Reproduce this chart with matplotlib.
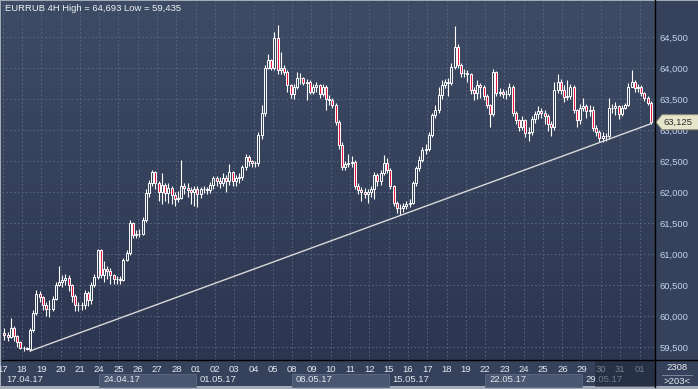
import numpy as np
import matplotlib
matplotlib.use('Agg')
import matplotlib.pyplot as plt
from matplotlib.colors import LinearSegmentedColormap
from matplotlib.transforms import blended_transform_factory
from matplotlib.patches import Rectangle, Polygon
from matplotlib.lines import Line2D

plt.rcParams['font.family'] = ['Liberation Sans', 'DejaVu Sans']

# EURRUB 4H, 17.04.17 - 01.06.17 (6 bars per day)
first_open = 59.72
closes = [
    59.70, 59.66, 59.80, 59.68, 59.58, 59.48,  # 17
    59.48, 59.47, 59.77, 60.05, 60.35, 60.30,  # 18
    60.18, 60.12, 60.12, 60.28, 60.50, 60.55,  # 19
    60.58, 60.62, 60.50, 60.33, 60.18, 60.17,  # 20
    60.17, 60.37, 60.26, 60.50, 60.63, 61.06,  # 21
    60.66, 60.76, 60.72, 60.66, 60.60, 60.60,  # 24
    60.58, 60.90, 61.02, 61.50, 61.30, 61.32,  # 25
    61.33, 61.55, 61.98, 62.15, 62.32, 62.15,  # 26
    62.00, 62.12, 61.98, 62.06, 61.95, 61.88,  # 27
    61.90, 62.10, 62.07, 62.03, 62.00, 62.05,  # 28
    61.97, 62.05, 62.05, 62.03, 62.12, 62.22,  # 01
    62.18, 62.15, 62.23, 62.17, 62.32, 62.17,  # 02
    62.23, 62.24, 62.40, 62.57, 62.50, 62.47,  # 03
    62.46, 62.92, 63.27, 64.00, 64.13, 64.00,  # 04
    64.48, 63.97, 64.00, 63.94, 63.72, 63.58,  # 05
    63.70, 63.84, 63.84, 63.76, 63.78, 63.62,  # 08
    63.70, 63.72, 63.58, 63.70, 63.50, 63.48,  # 09
    63.40, 63.13, 62.76, 62.40, 62.45, 62.47,  # 10
    62.48, 62.10, 62.03, 62.00, 61.97, 62.00,  # 11
    62.05, 62.27, 62.18, 62.30, 62.47, 62.35,  # 12
    62.10, 61.82, 61.74, 61.74, 61.78, 61.80,  # 15
    61.83, 62.14, 62.38, 62.52, 62.68, 62.70,  # 16
    62.92, 63.24, 63.32, 63.56, 63.73, 63.77,  # 17
    63.76, 64.02, 64.34, 64.05, 63.92, 63.92,  # 18
    63.90, 63.64, 63.60, 63.72, 63.70, 63.55,  # 19
    63.40, 63.25, 63.93, 63.60, 63.62, 63.58,  # 22
    63.58, 63.70, 63.27, 63.16, 63.05, 63.16,  # 23
    62.95, 62.97, 63.17, 63.25, 63.30, 63.28,  # 24
    63.22, 63.10, 63.05, 63.65, 63.77, 63.64,  # 25
    63.53, 63.55, 63.70, 63.32, 63.16, 63.35,  # 26
    63.38, 63.30, 63.33, 63.03, 62.97, 62.87,  # 29
    62.90, 62.90, 63.35, 63.35, 63.38, 63.25,  # 30
    63.35, 63.40, 63.70, 63.77, 63.68, 63.70,  # 31
    63.60, 63.52, 63.44, 63.125,               # 01
]
highs = [
    59.80, 59.74, 59.97, 59.84, 59.70, 59.60,
    59.52, 59.50, 59.80, 60.10, 60.42, 60.40,
    60.32, 60.22, 60.26, 60.32, 60.54, 60.80,
    60.66, 60.68, 60.66, 60.52, 60.35, 60.22,
    60.22, 60.42, 60.40, 60.55, 60.68, 61.08,
    61.08, 60.88, 60.80, 60.78, 60.68, 60.64,
    60.64, 60.94, 61.06, 61.55, 61.52, 61.38,
    61.40, 61.60, 62.05, 62.20, 62.36, 62.34,
    62.18, 62.30, 62.15, 62.14, 62.10, 62.00,
    62.02, 62.52, 62.14, 62.15, 62.08, 62.10,
    62.10, 62.08, 62.10, 62.08, 62.16, 62.26,
    62.25, 62.24, 62.30, 62.28, 62.45, 62.34,
    62.28, 62.30, 62.44, 62.62, 62.60, 62.52,
    62.50, 62.96, 63.40, 64.05, 64.22, 64.15,
    64.58, 64.693, 64.26, 64.04, 63.96, 63.74,
    63.74, 63.94, 63.92, 63.86, 63.82, 63.80,
    63.74, 63.78, 63.74, 63.74, 63.72, 63.56,
    63.52, 63.44, 63.16, 62.80, 62.50, 62.62,
    62.58, 62.52, 62.14, 62.08, 62.06, 62.04,
    62.10, 62.32, 62.30, 62.36, 62.60, 62.55,
    62.38, 62.12, 61.85, 61.80, 61.82, 61.86,
    61.88, 62.18, 62.42, 62.58, 62.72, 62.78,
    62.96, 63.28, 63.40, 63.70, 63.80, 63.82,
    63.84, 64.08, 64.68, 64.38, 64.08, 63.98,
    63.96, 63.92, 63.70, 63.80, 63.76, 63.72,
    63.58, 63.42, 63.98, 63.95, 63.68, 63.66,
    63.64, 63.76, 63.72, 63.30, 63.18, 63.22,
    63.18, 63.05, 63.22, 63.30, 63.38, 63.35,
    63.32, 63.25, 63.14, 63.78, 63.90, 63.82,
    63.72, 63.80, 63.74, 63.72, 63.34, 63.42,
    63.52, 63.42, 63.40, 63.38, 63.08, 63.00,
    62.96, 62.95, 63.52, 63.42, 63.45, 63.40,
    63.40, 63.44, 63.76, 63.97, 63.80, 63.74,
    63.72, 63.62, 63.55, 63.46,
]
lows = [
    59.62, 59.60, 59.64, 59.60, 59.50, 59.46,
    59.44, 59.45, 59.435, 59.74, 60.02, 60.22,
    60.10, 60.00, 59.98, 60.08, 60.25, 60.48,
    60.46, 60.50, 60.40, 60.22, 60.08, 60.08,
    60.10, 60.12, 60.16, 60.20, 60.46, 60.60,
    60.62, 60.55, 60.60, 60.52, 60.52, 60.52,
    60.52, 60.56, 60.88, 60.98, 61.26, 61.26,
    61.28, 61.30, 61.52, 61.92, 62.10, 62.05,
    61.85, 61.80, 61.85, 61.82, 61.80, 61.78,
    61.84, 61.88, 61.96, 61.92, 61.80, 61.78,
    61.75, 61.90, 61.98, 61.96, 61.98, 62.05,
    62.10, 62.06, 62.10, 62.00, 62.12, 62.10,
    62.10, 62.15, 62.20, 62.36, 62.42, 62.40,
    62.40, 62.42, 62.85, 63.22, 63.98, 63.96,
    63.96, 63.90, 63.90, 63.88, 63.62, 63.52,
    63.50, 63.66, 63.74, 63.72, 63.48, 63.58,
    63.58, 63.62, 63.52, 63.54, 63.32, 63.40,
    63.35, 63.08, 62.70, 62.36, 62.36, 62.40,
    62.40, 62.04, 61.96, 61.85, 61.90, 61.82,
    61.92, 61.88, 62.10, 62.12, 62.28, 62.30,
    62.05, 61.78, 61.66, 61.63, 61.68, 61.72,
    61.76, 61.80, 62.10, 62.34, 62.48, 62.62,
    62.66, 62.88, 63.20, 63.28, 63.50, 63.68,
    63.55, 63.72, 63.98, 64.00, 63.86, 63.85,
    63.78, 63.58, 63.48, 63.50, 63.52, 63.48,
    63.36, 63.05, 63.22, 63.55, 63.55, 63.52,
    63.50, 63.55, 63.22, 63.10, 62.98, 63.00,
    62.88, 62.82, 62.92, 63.12, 63.18, 63.20,
    63.10, 62.98, 62.90, 63.00, 63.60, 63.58,
    63.45, 63.48, 63.50, 63.28, 63.05, 63.10,
    63.30, 63.20, 63.22, 62.98, 62.90, 62.80,
    62.80, 62.82, 62.86, 63.28, 63.24, 63.18,
    63.22, 63.34, 63.38, 63.70, 63.62, 63.62,
    63.54, 63.46, 63.40, 63.10,
]

days = ['17', '18', '19', '20', '21', '24', '25', '26', '27', '28',
        '01', '02', '03', '04', '05', '08', '09', '10', '11', '12',
        '15', '16', '17', '18', '19', '22', '23', '24', '25', '26',
        '29', '30', '31', '01']
weeks = ['17.04.17', '24.04.17', '01.05.17', '08.05.17',
         '15.05.17', '22.05.17', '29.05.17']
shaded_weeks = [1, 3, 5]
price_ticks = [59.5, 60.0, 60.5, 61.0, 61.5, 62.0, 62.5, 63.0, 63.5, 64.0, 64.5]
trend_x = [8, 201]
trend_y = [59.435, 63.10]
last_price = 63.125

closes = np.array(closes)
highs = np.array(highs)
lows = np.array(lows)
opens = np.r_[first_open, closes[:-1]]
x = np.arange(len(closes))

W, H = 698, 389
fig = plt.figure(figsize=(W / 100, H / 100), dpi=100, facecolor='#a3abb9')

# panel background (strips)
back = fig.add_axes([0, 0, 1, 1])
back.set_xlim(0, W)
back.set_ylim(H, 0)
back.axis('off')
back.add_patch(Rectangle((1, 1), W - 1, 385, facecolor='#36415b', edgecolor='none'))

ax = fig.add_axes([2 / W, 29 / H, 653 / W, 359 / H])
ax.set_facecolor('none')
ax.set_xlim(-0.72, 202.3)
ax.set_ylim(59.29, 65.08)

# gradient plot background
cmap = LinearSegmentedColormap.from_list('bg', ['#2d3650', '#3e4b65'])
ax.imshow(np.linspace(0, 1, 256).reshape(-1, 1), cmap=cmap, aspect='auto',
          extent=[-0.72, 202.3, 59.29, 65.08], origin='lower', zorder=0)

# grid
ax.set_axisbelow(True)
day_pos = [6 * k - 0.5 for k in range(len(days))]
ax.set_xticks(day_pos)
ax.set_xticklabels(days)
ax.set_yticks(price_ticks)
ax.set_yticklabels([f'{v:.3f}'.replace('.', ',') for v in price_ticks])
ax.yaxis.tick_right()
ax.grid(True, color='#5b6782', linestyle=(0, (1.6, 2.4)), linewidth=0.7)
ax.tick_params(axis='x', length=0, pad=3.5, labelsize=6.8, labelcolor='#e4e9f0')
ax.tick_params(axis='y', length=0, pad=3.5, labelsize=6.8, labelcolor='#c3d4ee')
for s in ax.spines.values():
    s.set_visible(False)

# candles
up = closes >= opens
faces = np.where(up, '#35415b', '#e8163c')
ax.vlines(x, lows, highs, color='white', linewidth=0.8, zorder=2)
ax.bar(x, np.abs(closes - opens), bottom=np.minimum(opens, closes), width=0.62,
       color=faces, edgecolor='white', linewidth=0.7, zorder=3)

# trend line
ax.plot(trend_x, trend_y, color='#d9d9d9', linewidth=1.0, zorder=4)

ax.text(0.004, 0.993, 'EURRUB 4H High = 64,693 Low = 59,435', transform=ax.transAxes,
        ha='left', va='top', fontsize=6.8, color='#eef1f5', zorder=6)

# week boxes and labels under the day labels
bt = blended_transform_factory(ax.transData, ax.transAxes)
for w, lab in enumerate(weeks):
    x0 = 30 * w - 0.5
    if w in shaded_weeks:
        ax.add_patch(Rectangle((x0, -0.076), 30, 0.038, transform=bt, clip_on=False,
                               facecolor='#4b5771', edgecolor='#5d6983', linewidth=0.6, zorder=1))
    ax.text(x0 + 1.2, -0.053, lab, transform=bt, ha='left', va='center',
            fontsize=6.8, color='#e0e6ee', clip_on=False, zorder=4)

# darker band at the right end of the time axis
ax.add_patch(Rectangle((183.6, -0.076), 202.3 - 183.6, 0.074, transform=bt, clip_on=False,
                       facecolor='#1c2436', edgecolor='none', alpha=0.55, zorder=5))

# last price tag
pt = blended_transform_factory(ax.transAxes, ax.transData)
d = 7.5 / 62
tag = Polygon([(1 + 1 / 653, last_price), (1 + 7 / 653, last_price + d),
               (1 + 44 / 653, last_price + d), (1 + 44 / 653, last_price - d),
               (1 + 7 / 653, last_price - d)], closed=True, transform=pt, clip_on=False,
              facecolor='#e6e6cc', edgecolor='#8e8e78', linewidth=0.7, zorder=6)
ax.add_patch(tag)
ax.text(1 + 9 / 653, last_price, f'{last_price:.3f}'.replace('.', ','), transform=pt,
        ha='left', va='center', fontsize=6.8, color='#2b2b2b', clip_on=False, zorder=7)

# separators
fig.add_artist(Line2D([655 / W, 655 / W], [2 / H, 1], color='black', linewidth=1.0))
fig.add_artist(Line2D([2 / W, 1], [29 / H, 29 / H], color='black', linewidth=1.0))
fig.add_artist(Line2D([662 / W, 692 / W], [1 - 374.5 / H, 1 - 374.5 / H], color='#8893a8', linewidth=0.6))

fig.text(677 / W, 1 - 368 / H, '2308', ha='center', va='center', fontsize=6.8, color='#e8ecf2')
fig.text(677 / W, 1 - 381 / H, '>203<', ha='center', va='center', fontsize=6.8, color='#e8ecf2')

fig.savefig('out.png', dpi=100, facecolor=fig.get_facecolor())
